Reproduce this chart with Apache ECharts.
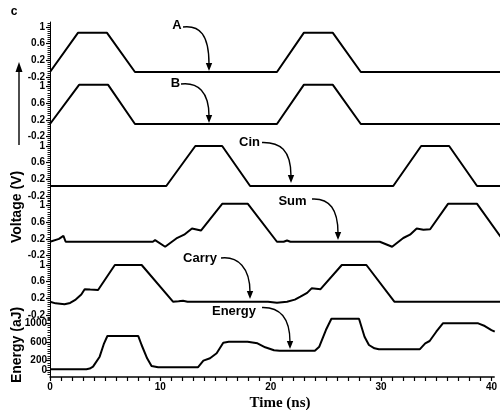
<!DOCTYPE html>
<html>
<head>
<meta charset="utf-8">
<script src="https://cdn.jsdelivr.net/npm/echarts@6/dist/echarts.min.js"></script>
<style>html,body{margin:0;padding:0;background:#fff}#c{width:500px;height:410px}</style>
</head>
<body>
<div id="c"></div>
<script>
// ---- data (time in ns, value) ----
const seriesNames = ['A', 'B', 'Cin', 'Sum', 'Carry', 'Energy'];
const dataA = [[0,-0.08],[2.5,0.86],[5.1,0.86],[7.6,-0.08],[20.3,-0.08],[22.7,0.86],[25.3,0.86],[27.8,-0.08],[40.3,-0.08]];
const dataB = [[0,0.1],[2.6,1.04],[5.2,1.04],[7.6,0.1],[20.3,0.1],[22.7,1.04],[25.3,1.04],[27.8,0.1],[40.3,0.1]];
const dataCin = [[0,0.04],[10.4,0.04],[13.0,1.0],[15.4,1.0],[17.9,0.04],[30.7,0.04],[33.2,1.0],[35.7,1.0],[38.2,0.04],[40.3,0.04]];
const dataSum = [[0,0.13],[0.8,0.2],[1.2,0.27],[1.4,0.13],[9.2,0.13],[9.4,0.17],[10.3,0.01],[11.3,0.21],[12.0,0.3],[12.7,0.45],[13.5,0.4],[15.4,1.04],[17.7,1.04],[20.3,0.13],[20.9,0.13],[21.2,0.16],[21.5,0.13],[29.5,0.13],[30.6,0.01],[31.6,0.22],[32.2,0.3],[32.8,0.45],[33.4,0.42],[34.0,0.43],[35.6,1.04],[38.2,1.04],[40.3,0.25]];
const dataCarry = [[0,0.12],[0.5,0.08],[1.3,0.06],[1.8,0.09],[2.3,0.17],[2.8,0.29],[3.1,0.42],[3.6,0.41],[4.3,0.4],[5.8,1.0],[8.2,1.0],[11.0,0.12],[11.5,0.13],[11.9,0.14],[12.3,0.12],[19.5,0.12],[20.3,0.095],[21.2,0.12],[21.9,0.17],[22.4,0.24],[23.0,0.33],[23.4,0.44],[24.2,0.42],[26.1,1.0],[28.3,1.0],[30.8,0.12],[40.3,0.12]];
const dataEnergy = [[0,15],[3.3,15],[3.6,30],[3.9,70],[4.5,283],[4.9,568],[5.2,723],[8.0,723],[8.3,532],[8.8,249],[9.2,85],[9.8,57],[13.4,57],[13.9,198],[14.5,249],[15.1,355],[15.7,581],[16.2,600],[17.9,603],[18.8,568],[19.5,483],[20.3,420],[20.8,411],[24.0,411],[24.4,496],[25.0,851],[25.5,1090],[28.0,1090],[28.5,709],[28.9,532],[29.4,462],[29.8,440],[33.5,440],[34.0,568],[34.4,617],[35.0,815],[35.6,993],[38.8,993],[39.4,936],[40.0,851],[40.3,815]];
const voltageTicks = [-0.2, 0.2, 0.6, 1];
const energyTicks = [0, 200, 600, 1000];
const timeTicks = [0, 10, 20, 30, 40];
const xAxisTitle = 'Time (ns)';
const voltageTitle = 'Voltage (V)';
const energyTitle = 'Energy (aJ)';
const panelLetter = 'c';

const allData = [dataA, dataB, dataCin, dataSum, dataCarry, dataEnergy];

// ---- layout ----
const X_MAX = 40.25;
const vMin = -0.31, vMax = 1.12;
const panels = [
  {top: 22, height: 59.6, min: vMin, max: vMax},
  {top: 81.5, height: 59.6, min: vMin, max: vMax},
  {top: 141, height: 59.6, min: vMin, max: vMax},
  {top: 200.5, height: 59.6, min: vMin, max: vMax},
  {top: 260, height: 59.6, min: vMin, max: vMax},
  {top: 316, height: 61, min: -150, max: 1150}
];
const FONT = 'Liberation Sans, Arial, sans-serif';
const fmt = v => String(v);

function range(a, b, step) { const r = []; for (let v = a; v <= b + 1e-9; v += step) r.push(Math.round(v * 1000) / 1000); return r; }

const grids = [], xAxes = [], yAxes = [], series = [];
panels.forEach((p, i) => {
  grids.push({left: 50, width: 450, top: p.top, height: p.height});
  const isLast = i === panels.length - 1;
  xAxes.push({
    type: 'value', gridIndex: i, min: 0, max: X_MAX, show: isLast,
    position: 'bottom',
    axisLine: {show: true, onZero: false, lineStyle: {color: '#000', width: 1.5}},
    axisTick: {show: true, customValues: range(0, 40, 1), length: 4, lineStyle: {color: '#000', width: 1.2}},
    axisLabel: {customValues: timeTicks, formatter: fmt, color: '#000', fontSize: 10, fontWeight: 'bold', fontFamily: FONT, margin: 5, hideOverlap: false},
    splitLine: {show: false}
  });
  const major = isLast ? energyTicks : voltageTicks;
  // energy labels are split over two overlaid axes so none of them get dropped as overlapping
  const labelsA = isLast ? energyTicks.filter((v, k) => k % 2 === 0) : voltageTicks;
  const labelsB = isLast ? energyTicks.filter((v, k) => k % 2 === 1) : [];
  const minor = isLast ? range(-100, 1100, 50) : range(-0.3, 1.1, 0.05);
  const lblStyle = {color: '#000', fontSize: 10, fontWeight: 'bold', fontFamily: FONT, formatter: fmt,
                    margin: isLast ? 3 : 5, hideOverlap: false};
  yAxes.push({
    type: 'value', gridIndex: i, min: p.min, max: p.max, position: 'left',
    axisLine: {show: true, onZero: false, lineStyle: {color: '#000', width: 1}},
    axisTick: {show: true, customValues: major, length: 4, lineStyle: {color: '#000', width: 1.2}},
    axisLabel: Object.assign({customValues: labelsA}, lblStyle),
    splitLine: {show: false}
  });
  yAxes.push({
    type: 'value', gridIndex: i, min: p.min, max: p.max, position: 'left', offset: 0,
    axisLine: {show: false},
    axisTick: {show: true, customValues: minor, length: 2.5, lineStyle: {color: '#000', width: 0.9}},
    axisLabel: labelsB.length ? Object.assign({customValues: labelsB}, lblStyle) : {show: false},
    splitLine: {show: false}
  });
  series.push({
    type: 'line', name: seriesNames[i], xAxisIndex: i, yAxisIndex: 2 * i,
    data: allData[i], showSymbol: false, symbol: 'none',
    lineStyle: {color: '#000', width: 2}, animation: false, clip: true
  });
});

function arrow(x0, y0, c1x, c1y, c2x, c2y, x1, y1, tipY) {
  return [
    {type: 'bezierCurve', shape: {x1: x0, y1: y0, cpx1: c1x, cpy1: c1y, cpx2: c2x, cpy2: c2y, x2: x1, y2: y1},
     style: {stroke: '#000', lineWidth: 1.4, fill: null}},
    {type: 'polygon', shape: {points: [[x1 - 3.2, tipY - 8], [x1 + 3.2, tipY - 8], [x1, tipY]]}, style: {fill: '#000'}}
  ];
}
function label(text, x, y) {
  return {type: 'text', x: x, y: y, style: {text: text, fill: '#000', font: 'bold 13px ' + FONT, align: 'center', verticalAlign: 'middle'}};
}

const graphics = [
  {type: 'text', x: 14, y: 12, style: {text: panelLetter, fill: '#000', font: 'bold 12px ' + FONT, align: 'center', verticalAlign: 'middle'}},
  {type: 'line', shape: {x1: 19, y1: 145, x2: 19, y2: 66}, style: {stroke: '#000', lineWidth: 1.4}},
  {type: 'polygon', shape: {points: [[15.5, 72], [22.5, 72], [19, 62]]}, style: {fill: '#000'}},
  {type: 'text', x: 17, y: 207, rotation: Math.PI / 2, style: {text: voltageTitle, fill: '#000', font: 'bold 14px ' + FONT, align: 'center', verticalAlign: 'middle'}},
  {type: 'text', x: 17, y: 345, rotation: Math.PI / 2, style: {text: energyTitle, fill: '#000', font: 'bold 14px ' + FONT, align: 'center', verticalAlign: 'middle'}},
  {type: 'text', x: 280, y: 403, style: {text: xAxisTitle, fill: '#000', font: 'bold 15px Liberation Serif, Times New Roman, serif', align: 'center', verticalAlign: 'middle'}},
  label('A', 177, 25.5),
  label('B', 175.5, 83.5),
  label('Cin', 249.5, 142),
  label('Sum', 292.5, 201),
  label('Carry', 200, 258),
  label('Energy', 234, 311),
  ...arrow(183, 27, 200, 25, 209, 35, 209, 64, 71),
  ...arrow(181, 84, 198, 82, 209, 92, 209, 116, 123),
  ...arrow(262, 142.5, 280, 142, 291, 150, 291, 176, 183),
  ...arrow(312, 199, 330, 198, 338, 210, 338, 233, 240),
  ...arrow(221, 258, 238, 256, 250, 268, 250, 292, 299),
  ...arrow(262, 307.5, 280, 307, 290, 318, 290, 342, 349)
];

const chart = echarts.init(document.getElementById('c'), null, {renderer: 'canvas'});
chart.setOption({
  animation: false,
  backgroundColor: '#fff',
  grid: grids,
  xAxis: xAxes,
  yAxis: yAxes,
  series: series,
  graphic: graphics
});
</script>
</body>
</html>
